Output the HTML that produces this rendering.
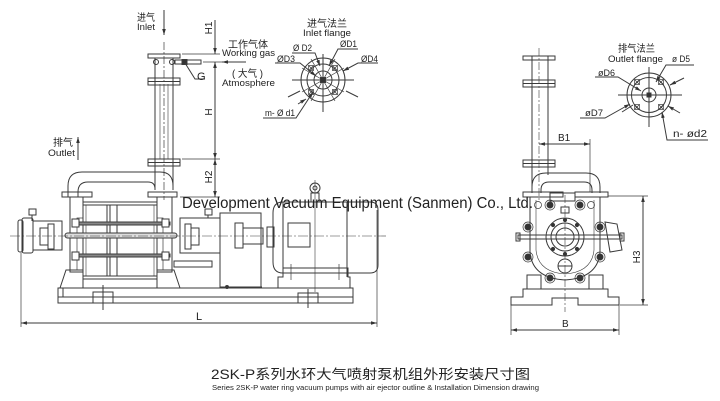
<!DOCTYPE html>
<html><head><meta charset="utf-8"><style>
html,body{margin:0;padding:0;background:#fff;}
svg{display:block}
text{font-family:"Liberation Sans","Noto Sans CJK SC",sans-serif;fill:#222;stroke:none}
</style></head><body>
<svg width="720" height="401" viewBox="0 0 720 401" xmlns="http://www.w3.org/2000/svg">
<defs>
<marker id="ar" viewBox="0 0 10 10" refX="10" refY="5" markerWidth="6" markerHeight="6" orient="auto-start-reverse" markerUnits="userSpaceOnUse"><path d="M0,2 L10,5 L0,8 z" fill="#333"/></marker>
</defs>
<rect width="720" height="401" fill="#fff"/>
<g fill="none" stroke="#3a3a3a" stroke-width="1">
<!-- ===== LEFT VIEW: ejector column ===== -->
<line x1="164" y1="10" x2="164" y2="35" marker-end="url(#ar)"/>
<line x1="164" y1="42" x2="164" y2="200" stroke-dasharray="8,2,2,2" stroke-width="0.7"/>
<rect x="148" y="54" width="32" height="4"/>
<line x1="155" y1="58" x2="155" y2="190"/>
<line x1="173" y1="58" x2="173" y2="190"/>
<line x1="160" y1="84" x2="160" y2="159" stroke-width="0.6"/>
<line x1="168" y1="84" x2="168" y2="159" stroke-width="0.6"/>
<circle cx="156" cy="62" r="2.5"/>
<circle cx="172" cy="62" r="2.5"/>
<rect x="175" y="60" width="26" height="4"/>
<rect x="182" y="59.5" width="5" height="5" fill="#333"/>
<rect x="148" y="78" width="32" height="7"/>
<line x1="148" y1="81.5" x2="180" y2="81.5"/>
<rect x="148" y="159" width="32" height="7"/>
<line x1="148" y1="162.5" x2="180" y2="162.5"/>
<!-- G leader -->
<polyline points="185,63 195,79 205,79"/>
<!-- dimension H1/H/H2 -->
<line x1="215" y1="20" x2="215" y2="54" marker-end="url(#ar)"/>
<line x1="215" y1="62" x2="215" y2="159" marker-start="url(#ar)" marker-end="url(#ar)"/>
<line x1="215" y1="159" x2="215" y2="197" marker-start="url(#ar)" marker-end="url(#ar)"/>
<line x1="182" y1="54" x2="220" y2="54" stroke-width="0.7"/>
<line x1="182" y1="159" x2="220" y2="159" stroke-width="0.7"/>
<line x1="180" y1="197" x2="220" y2="197" stroke-width="0.7"/>
<line x1="203" y1="62" x2="222" y2="62" stroke-width="0.7"/>
<line x1="246" y1="62" x2="222" y2="62" marker-end="url(#ar)"/>
<!-- outlet arrow -->
<line x1="78" y1="160" x2="78" y2="137" marker-end="url(#ar)"/>
<!-- U pipe -->
<path d="M68,197 V186 Q68,172 82,172 H160 Q173,172 173,186"/>
<path d="M78,197 V192 Q78,182 88,182 H148 Q155,182 155,189"/>
<rect x="62" y="192" width="30" height="5"/>
<rect x="148" y="192" width="29" height="5"/>
<!-- pump body -->
<rect x="70" y="197" width="13" height="75"/>
<rect x="157" y="197" width="15" height="75"/>
<rect x="83" y="202" width="74" height="77"/>
<line x1="83" y1="205" x2="157" y2="205"/>
<line x1="83" y1="276" x2="157" y2="276"/>
<line x1="86" y1="205" x2="86" y2="276" stroke-width="0.6"/>
<line x1="154" y1="205" x2="154" y2="276" stroke-width="0.6"/>
<line x1="107" y1="205" x2="107" y2="276"/>
<line x1="110" y1="205" x2="110" y2="276"/>
<line x1="117" y1="205" x2="117" y2="276"/>
<rect x="77" y="218" width="6" height="52" stroke-width="0.7"/>
<rect x="157" y="218" width="6" height="52" stroke-width="0.7"/>
<rect x="72" y="222" width="98" height="3" fill="#888"/>
<rect x="72" y="254" width="98" height="3" fill="#888"/>
<rect x="65" y="233" width="112" height="5" rx="2.5" fill="#ddd"/>
<rect x="72" y="219" width="7" height="8" fill="#fff"/>
<rect x="162" y="219" width="7" height="8" fill="#fff"/>
<rect x="72" y="252" width="7" height="8" fill="#fff"/>
<rect x="162" y="252" width="7" height="8" fill="#fff"/>
<!-- feet -->
<path d="M60,288 L66,270 H83 V288"/>
<path d="M157,288 V270 H174 L180,288"/>
<!-- outlet side pipe -->
<rect x="174" y="261" width="38" height="6"/>
<!-- left bearing housing -->
<rect x="18" y="220" width="5" height="32" rx="2"/>
<rect x="22" y="218" width="11" height="35" rx="2"/>
<rect x="33" y="221" width="29" height="29"/>
<rect x="40" y="228" width="8" height="17"/>
<rect x="48" y="224" width="6" height="25"/>
<rect x="29" y="209" width="7" height="6"/>
<line x1="32" y1="215" x2="32" y2="221"/>
<!-- right bearing housing -->
<rect x="180" y="218" width="40" height="35"/>
<rect x="185" y="224" width="6" height="25"/>
<rect x="191" y="228" width="8" height="17"/>
<rect x="205" y="209" width="7" height="6"/>
<line x1="208" y1="215" x2="208" y2="218"/>
<!-- shaft center line -->
<line x1="10" y1="236" x2="386" y2="236" stroke-dasharray="10,2,2,2" stroke-width="0.6"/>
<!-- coupling guard -->
<polyline points="220,288 220,213 261,213 261,287"/>
<rect x="235" y="223" width="8" height="25"/>
<rect x="243" y="228" width="20" height="16"/>
<rect x="267" y="227" width="7" height="20"/>
<!-- motor -->
<path d="M283,202 H370 Q378,202 378,210 V265 Q378,273 370,273 H283 Q273,273 273,262 V213 Q273,202 283,202 Z"/>
<line x1="283" y1="202" x2="283" y2="273"/>
<line x1="347" y1="202" x2="347" y2="277"/>
<rect x="288" y="223" width="22" height="24"/>
<circle cx="315" cy="188" r="5"/>
<circle cx="315" cy="188" r="2"/>
<rect x="311" y="193" width="8" height="9"/>
<line x1="315" y1="180" x2="315" y2="292" stroke-width="0.6"/>
<path d="M283,268 H348 V277 H350 V288 H278 V277 H283 Z"/>
<line x1="291" y1="264" x2="291" y2="280" stroke-width="0.7"/>
<line x1="339" y1="264" x2="339" y2="280" stroke-width="0.7"/>
<!-- base -->
<line x1="58" y1="288" x2="280" y2="288"/>
<rect x="58" y="288" width="295" height="15"/>
<line x1="58" y1="297" x2="353" y2="297"/>
<line x1="63" y1="288" x2="63" y2="297"/>
<rect x="93" y="292" width="20" height="11"/>
<line x1="103" y1="285" x2="103" y2="310"/>
<rect x="298" y="293" width="20" height="10"/>
<line x1="308" y1="289" x2="308" y2="308"/>
<line x1="220" y1="287" x2="262" y2="287"/>
<circle cx="227" cy="287" r="1.5" fill="#333"/>
<!-- L dimension -->
<line x1="21" y1="253" x2="21" y2="327" stroke-width="0.7"/>
<line x1="377" y1="210" x2="377" y2="327" stroke-width="0.7"/>
<line x1="21" y1="323" x2="377" y2="323" marker-start="url(#ar)" marker-end="url(#ar)"/>

<!-- ===== INLET FLANGE ===== -->
<circle cx="323" cy="80" r="22"/>
<circle cx="323" cy="80" r="16"/>
<circle cx="323" cy="80" r="9"/>
<line x1="323" y1="54" x2="323" y2="112"/>
<line x1="292" y1="80" x2="354" y2="80"/>
<line x1="302" y1="92" x2="344" y2="68" stroke-width="0.7"/>
<line x1="302" y1="68" x2="344" y2="92" stroke-width="0.7"/>
<line x1="311" y1="101" x2="335" y2="59" stroke-width="0.7"/>
<line x1="311" y1="59" x2="335" y2="101" stroke-width="0.7"/>
<line x1="288" y1="97" x2="300" y2="91"/>
<line x1="358" y1="97" x2="346" y2="91"/>
<rect x="320.5" y="77.5" width="5" height="5" fill="#333"/>
<g stroke-width="0.7">
<rect x="308.5" y="65.5" width="5" height="5"/><path d="M308.5,65.5 l5,5 M313.5,65.5 l-5,5"/>
<rect x="332.5" y="65.5" width="5" height="5"/><path d="M332.5,65.5 l5,5 M337.5,65.5 l-5,5"/>
<rect x="308.5" y="89.5" width="5" height="5"/><path d="M308.5,89.5 l5,5 M313.5,89.5 l-5,5"/>
<rect x="332.5" y="89.5" width="5" height="5"/><path d="M332.5,89.5 l5,5 M337.5,89.5 l-5,5"/>
</g>
<polyline points="358,49 338,49 329,66" marker-end="url(#ar)"/>
<polyline points="292,53 315,53 320,66" marker-end="url(#ar)"/>
<polyline points="275,63 300,63 316,76" marker-end="url(#ar)"/>
<polyline points="378,63 358,63 343,71" marker-end="url(#ar)"/>
<polyline points="263,118 296,118 313,92" marker-end="url(#ar)"/>
<line x1="298" y1="104" x2="306" y2="99" marker-end="url(#ar)"/>

<!-- ===== OUTLET FLANGE ===== -->
<circle cx="649" cy="95" r="22"/>
<circle cx="649" cy="95" r="17.5"/>
<circle cx="649" cy="95" r="7"/>
<line x1="649" y1="67" x2="649" y2="127"/>
<line x1="618" y1="95" x2="682" y2="95"/>
<rect x="647" y="93" width="4" height="4" fill="#333"/>
<g stroke-width="0.7">
<rect x="634.5" y="79.5" width="5" height="5"/><path d="M634.5,79.5 l5,5 M639.5,79.5 l-5,5"/>
<rect x="658.5" y="79.5" width="5" height="5"/><path d="M658.5,79.5 l5,5 M663.5,79.5 l-5,5"/>
<rect x="634.5" y="104.5" width="5" height="5"/><path d="M634.5,104.5 l5,5 M639.5,104.5 l-5,5"/>
<rect x="658.5" y="104.5" width="5" height="5"/><path d="M658.5,104.5 l5,5 M663.5,104.5 l-5,5"/>
</g>
<polyline points="694,65 666,65 656,82" marker-end="url(#ar)"/>
<polyline points="595,77 618,77 641,91" marker-end="url(#ar)"/>
<polyline points="580,118 605,118 630,104" marker-end="url(#ar)"/>
<polyline points="708,140 667,140 662,112" marker-end="url(#ar)"/>
<line x1="684" y1="78" x2="670" y2="85" marker-end="url(#ar)"/>
<line x1="680" y1="113" x2="668" y2="106" marker-end="url(#ar)"/>
<line x1="622" y1="112" x2="633" y2="105"/>

<!-- ===== RIGHT VIEW ===== -->
<line x1="539" y1="48" x2="539" y2="200" stroke-dasharray="8,2,2,2" stroke-width="0.6"/>
<line x1="532" y1="56" x2="532" y2="193"/>
<line x1="548" y1="56" x2="548" y2="175"/>
<rect x="523" y="56" width="32" height="4"/>
<rect x="523" y="80" width="32" height="7"/>
<line x1="523" y1="83.5" x2="555" y2="83.5"/>
<rect x="523" y="160" width="32" height="7"/>
<line x1="523" y1="163.5" x2="555" y2="163.5"/>
<!-- B1 -->
<line x1="590" y1="139" x2="590" y2="192" stroke-width="0.7"/>
<line x1="539" y1="144" x2="590" y2="144" marker-start="url(#ar)" marker-end="url(#ar)"/>
<!-- U pipe right -->
<path d="M532,193 V187 Q532,173 546,173 H586 Q600,173 600,187 V193"/>
<path d="M541,193 V190 Q541,182 549,182 H584 Q592,182 592,190 V193"/>
<rect x="523" y="192" width="40" height="5"/>
<rect x="575" y="192" width="33" height="5"/>
<rect x="550" y="193" width="25" height="8"/>
<!-- casing -->
<path d="M530,197 V252 Q532,278 565,280 Q598,278 600,252 V197"/>
<path d="M536,200 V250 Q538,272 565,274 Q592,272 594,250 V200" stroke-width="0.6"/>
<circle cx="565" cy="237" r="19"/>
<circle cx="565" cy="237" r="14"/>
<circle cx="565" cy="237" r="9"/>
<circle cx="565" cy="266" r="7"/>
<line x1="558" y1="266" x2="572" y2="266"/>
<rect x="518" y="235" width="104" height="4"/>
<rect x="516" y="233" width="4" height="8"/>
<rect x="620" y="233" width="4" height="8"/>
<rect x="561" y="207" width="8" height="6"/>
<polygon points="605,222 617,224 622,250 610,252"/>
<g fill="#333">
<circle cx="550" cy="205" r="3"/><circle cx="580" cy="205" r="3"/>
<circle cx="528" cy="227" r="3"/><circle cx="600" cy="227" r="3"/>
<circle cx="528" cy="257" r="3"/><circle cx="600" cy="257" r="3"/>
<circle cx="550" cy="278" r="3"/><circle cx="580" cy="278" r="3"/>
<circle cx="553" cy="225" r="1.6"/><circle cx="577" cy="225" r="1.6"/>
<circle cx="553" cy="249" r="1.6"/><circle cx="577" cy="249" r="1.6"/>
<circle cx="565" cy="220" r="1.6"/><circle cx="565" cy="254" r="1.6"/>
</g>
<g stroke-width="0.7">
<circle cx="550" cy="205" r="5"/><circle cx="580" cy="205" r="5"/>
<circle cx="528" cy="227" r="5"/><circle cx="600" cy="227" r="5"/>
<circle cx="528" cy="257" r="5"/><circle cx="600" cy="257" r="5"/>
<circle cx="550" cy="278" r="5"/><circle cx="580" cy="278" r="5"/>
<circle cx="538" cy="205" r="3.5"/><circle cx="591" cy="205" r="3.5"/>
</g>
<!-- feet & base -->
<rect x="527" y="275" width="14" height="14"/>
<rect x="589" y="275" width="14" height="14"/>
<path d="M511,305 V297 H523 V289 H608 V297 H619 V305 H578 V298 H552 V305 Z"/>
<line x1="565" y1="195" x2="565" y2="312" stroke-dasharray="8,2,2,2" stroke-width="0.6"/>
<!-- H3 -->
<line x1="608" y1="196" x2="648" y2="196" stroke-width="0.7"/>
<line x1="620" y1="305" x2="648" y2="305" stroke-width="0.7"/>
<line x1="643" y1="196" x2="643" y2="305" marker-start="url(#ar)" marker-end="url(#ar)"/>
<!-- B -->
<line x1="511" y1="305" x2="511" y2="335" stroke-width="0.7"/>
<line x1="619" y1="305" x2="619" y2="335" stroke-width="0.7"/>
<line x1="511" y1="330" x2="619" y2="330" marker-start="url(#ar)" marker-end="url(#ar)"/>
</g>

<!-- ===== TEXT ===== -->
<text x="137" y="21" font-size="10" textLength="18" lengthAdjust="spacingAndGlyphs">进气</text>
<text x="137" y="30" font-size="9" textLength="18" lengthAdjust="spacingAndGlyphs">Inlet</text>
<text transform="translate(212,28) rotate(-90)" font-size="10" text-anchor="middle">H1</text>
<text transform="translate(212,112) rotate(-90)" font-size="10" text-anchor="middle">H</text>
<text transform="translate(212,177) rotate(-90)" font-size="10" text-anchor="middle">H2</text>
<text x="197" y="80" font-size="11">G</text>
<text x="228" y="48" font-size="10" textLength="40" lengthAdjust="spacingAndGlyphs">工作气体</text>
<text x="222" y="56" font-size="9" textLength="53" lengthAdjust="spacingAndGlyphs">Working gas</text>
<text x="232" y="77" font-size="10" textLength="31" lengthAdjust="spacingAndGlyphs">( 大气 )</text>
<text x="222" y="86" font-size="9" textLength="53" lengthAdjust="spacingAndGlyphs">Atmosphere</text>
<text x="53" y="146" font-size="10" textLength="20" lengthAdjust="spacingAndGlyphs">排气</text>
<text x="48" y="156" font-size="9" textLength="27" lengthAdjust="spacingAndGlyphs">Outlet</text>
<text x="307" y="27" font-size="10" textLength="40" lengthAdjust="spacingAndGlyphs">进气法兰</text>
<text x="303" y="36" font-size="9" textLength="48" lengthAdjust="spacingAndGlyphs">Inlet flange</text>
<text x="340" y="47" font-size="9" textLength="17" lengthAdjust="spacingAndGlyphs">ØD1</text>
<text x="293" y="51" font-size="9" textLength="19" lengthAdjust="spacingAndGlyphs">Ø D2</text>
<text x="277" y="62" font-size="9" textLength="18" lengthAdjust="spacingAndGlyphs">ØD3</text>
<text x="361" y="62" font-size="9" textLength="17" lengthAdjust="spacingAndGlyphs">ØD4</text>
<text x="265" y="116" font-size="9" textLength="30" lengthAdjust="spacingAndGlyphs">m- Ø d1</text>
<text x="618" y="52" font-size="10" textLength="37" lengthAdjust="spacingAndGlyphs">排气法兰</text>
<text x="608" y="62" font-size="9" textLength="55" lengthAdjust="spacingAndGlyphs">Outlet flange</text>
<text x="672" y="62" font-size="9" textLength="18" lengthAdjust="spacingAndGlyphs">ø D5</text>
<text x="598" y="76" font-size="9" textLength="17" lengthAdjust="spacingAndGlyphs">øD6</text>
<text x="585" y="116" font-size="9" textLength="18" lengthAdjust="spacingAndGlyphs">øD7</text>
<text x="673" y="137" font-size="10" textLength="34" lengthAdjust="spacingAndGlyphs">n- ød2</text>
<text x="558" y="141" font-size="10">B1</text>
<text transform="translate(640,257) rotate(-90)" font-size="10" text-anchor="middle">H3</text>
<text x="562" y="327" font-size="10">B</text>
<text x="196" y="320" font-size="11">L</text>
<text x="182" y="208" font-size="15.5" textLength="351" lengthAdjust="spacingAndGlyphs" fill="#1a1a1a">Development Vacuum Equipment (Sanmen) Co., Ltd.</text>
<text x="211" y="379" font-size="13.5" textLength="319" lengthAdjust="spacingAndGlyphs" fill="#222">2SK-P系列水环大气喷射泵机组外形安装尺寸图</text>
<text x="212" y="390" font-size="7.5" textLength="327" lengthAdjust="spacingAndGlyphs" fill="#444">Series 2SK-P water ring vacuum pumps with air ejector outline &amp; Installation Dimension drawing</text>
</svg>
</body></html>
